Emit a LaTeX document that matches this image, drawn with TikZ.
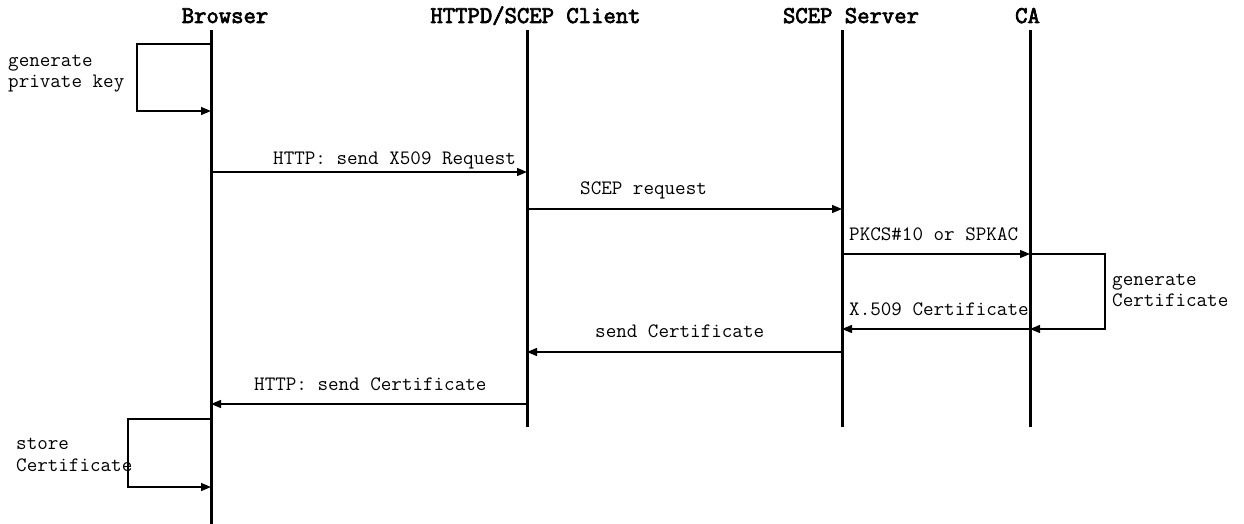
\documentclass[tikz,border=0pt]{standalone}
\usepackage{fontspec}
\newfontfamily\headfont{Latin Modern Mono}[FakeBold=3]
\usetikzlibrary{arrows.meta}
\tikzset{
  lifeline/.style={line width=3pt},
  msg/.style={line width=1.3pt,-{Triangle[length=10pt,width=8pt]}},
  actor/.style={inner sep=0pt,anchor=base,font=\fontsize{24}{28}\selectfont\headfont},
  lbl/.style={inner sep=0pt,anchor=base west,font=\fontsize{20.5}{24}\selectfont\ttfamily}
}
\begin{document}
\begin{tikzpicture}[x=1pt,y=-1pt]
\useasboundingbox (0,0) rectangle (1244,524);

% participants
\node[actor] (tb) at (225,23)    {Browser};
\node[actor] (th) at (535.5,23)  {HTTPD/SCEP Client};
\node[actor] (ts) at (851,23)    {SCEP Server};
\node[actor] (tc) at (1027.5,23) {CA};

% lifelines
\coordinate (b0) at (211,30);  \coordinate (bE) at (211,524);
\coordinate (h0) at (527,30);  \coordinate (hE) at (527,427);
\coordinate (s0) at (842,30);  \coordinate (sE) at (842,427);
\coordinate (c0) at (1030,30); \coordinate (cE) at (1030,427);
\draw[lifeline] (b0) -- (bE);
\draw[lifeline] (h0) -- (hE);
\draw[lifeline] (s0) -- (sE);
\draw[lifeline] (c0) -- (cE);

% browser: generate private key
\coordinate (k1) at (211,44);
\coordinate (k2) at (211,111);
\draw[msg] (k1) -- (137,44) -- (137,111) -- (k2);
\node[lbl] (lk1) at (8,67) {generate};
\node[lbl] (lk2) at (8,88) {private key};

% browser -> httpd
\coordinate (m1a) at (211,172); \coordinate (m1b) at (527,172);
\draw[msg] (m1a) -- (m1b);
\node[lbl] (l1) at (273,164) {HTTP: send X509 Request};

% httpd -> scep server
\coordinate (m2a) at (527,209); \coordinate (m2b) at (842,209);
\draw[msg] (m2a) -- (m2b);
\node[lbl] (l2) at (580,194) {SCEP request};

% scep server -> ca
\coordinate (m3a) at (842,254); \coordinate (m3b) at (1030,254);
\draw[msg] (m3a) -- (m3b);
\node[lbl] (l3) at (849,240) {PKCS\#10 or SPKAC};

% ca: generate certificate
\coordinate (g1) at (1030,254);
\coordinate (g2) at (1030,329);
\draw[msg] (g1) -- (1105,254) -- (1105,329) -- (g2);
\node[lbl] (lg1) at (1112,285) {generate};
\node[lbl] (lg2) at (1112,306) {Certificate};

% ca -> scep server
\coordinate (m4a) at (1030,329); \coordinate (m4b) at (842,329);
\draw[msg] (m4a) -- (m4b);
\node[lbl] (l4) at (849,315) {X.509 Certificate};

% scep server -> httpd
\coordinate (m5a) at (842,352); \coordinate (m5b) at (527,352);
\draw[msg] (m5a) -- (m5b);
\node[lbl] (l5) at (595,337) {send Certificate};

% httpd -> browser
\coordinate (m6a) at (527,404); \coordinate (m6b) at (211,404);
\draw[msg] (m6a) -- (m6b);
\node[lbl] (l6) at (254,390) {HTTP: send Certificate};

% browser: store certificate
\coordinate (st1) at (211,419);
\coordinate (st2) at (211,487);
\draw[msg] (st1) -- (128,419) -- (128,487) -- (st2);
\node[lbl] (ls1) at (16,449) {store};
\node[lbl] (ls2) at (16,471) {Certificate};
\end{tikzpicture}
\end{document}
